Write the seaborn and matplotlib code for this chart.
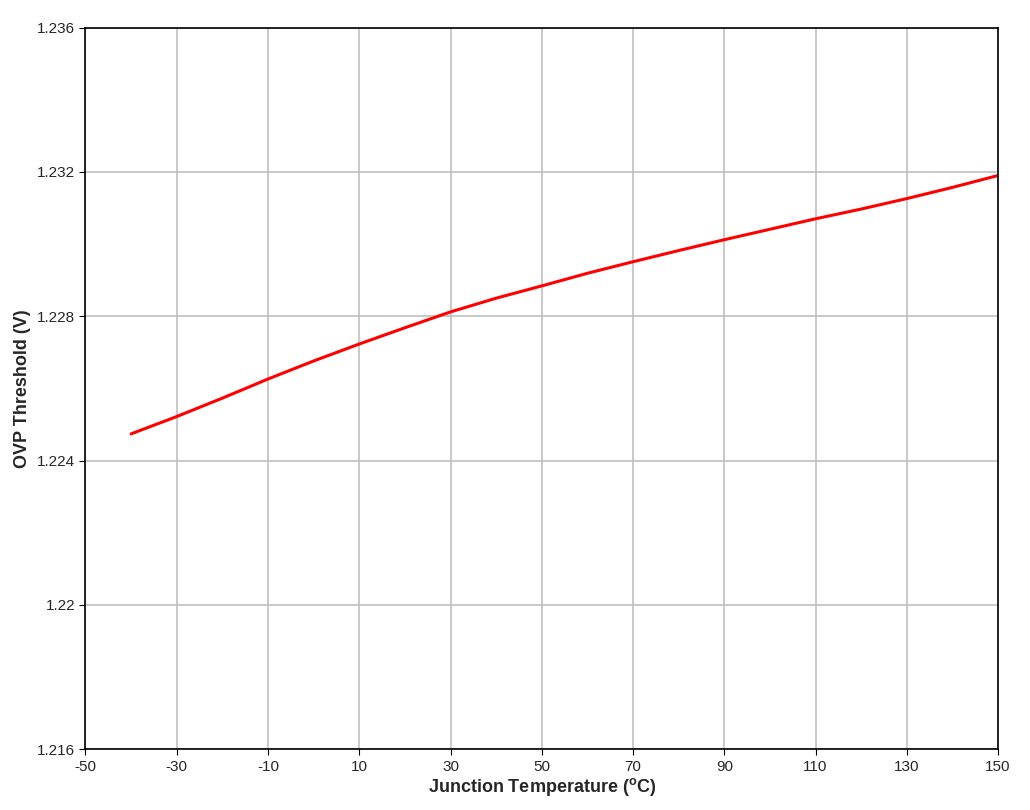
import matplotlib
matplotlib.use("Agg")
import matplotlib.pyplot as plt
import seaborn as sns
import pandas as pd

temps = [-40, -30, -20, -10, 0, 10, 20, 30, 40, 50, 60, 70, 80, 90, 100, 110, 120, 130, 140, 150]
ovp = [1.22474, 1.22522, 1.22573, 1.22626, 1.22676, 1.22723, 1.22768, 1.22812, 1.22850,
       1.22884, 1.22919, 1.22951, 1.22982, 1.23012, 1.23041, 1.23070, 1.23097, 1.23126,
       1.23157, 1.23190]
x_ticks = [-50, -30, -10, 10, 30, 50, 70, 90, 110, 130, 150]
y_ticks = [1.216, 1.22, 1.224, 1.228, 1.232, 1.236]
y_labels = ["1.216", "1.22", "1.224", "1.228", "1.232", "1.236"]

df = pd.DataFrame({"temp": temps, "ovp": ovp})

sns.set_style("white")
plt.rcParams["font.family"] = ["Liberation Sans", "DejaVu Sans"]
plt.rcParams["axes.unicode_minus"] = False
fig, ax = plt.subplots(figsize=(10.3, 8.1), dpi=100)
fig.subplots_adjust(left=0.083, right=0.969, top=0.966, bottom=0.075)

sns.lineplot(data=df, x="temp", y="ovp", color="#ff0000", linewidth=2.2, ax=ax)

ax.set_xlim(-50, 150)
ax.set_ylim(1.216, 1.236)
ax.set_xticks(x_ticks)
ax.set_yticks(y_ticks)
ax.set_yticklabels(y_labels)
ax.grid(True, color="#c0c0c0", linewidth=1.2)
ax.set_axisbelow(True)
for s in ax.spines.values():
    s.set_color("black")
    s.set_linewidth(1.2)
ax.tick_params(axis="both", labelsize=11, length=4, color="black", direction="out", left=True, bottom=True)
ax.set_xlabel("Junction Temperature ($^\\mathregular{o}$C)", fontsize=13, fontweight="bold", labelpad=2)
ax.set_ylabel("OVP Threshold (V)", fontsize=13, fontweight="bold", labelpad=4)

plt.savefig("out.png")
plt.close()
